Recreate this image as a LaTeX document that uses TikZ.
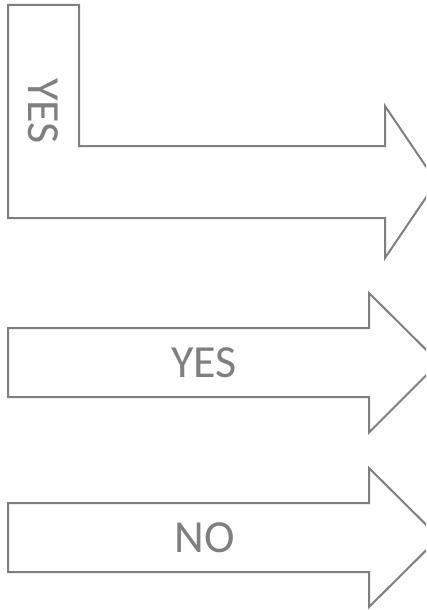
\documentclass[tikz,border=0pt]{standalone}
\usepackage{fontspec}
\setmainfont{Carlito}
\definecolor{linegray}{HTML}{7F7F7F}
\tikzset{
  blockarrow/.style={draw=linegray, line width=2pt, line join=miter, fill=white},
  lbl/.style={text=linegray, font=\fontsize{46}{50}\selectfont, inner sep=0pt, anchor=center}
}
\begin{document}
\begin{tikzpicture}[x=1pt,y=-1pt]
\useasboundingbox (0,0) rectangle (426,610);
\clip (0,0) rectangle (426,610);
% L-shaped arrow
\draw[blockarrow] (8,5) -- (79,5) -- (79,146) -- (385,146) -- (385,106) -- (436.5,182)
  -- (385,258) -- (385,218) -- (8,218) -- cycle;
\node[lbl, rotate=-90] (yesone) at (43,111) {YES};
% middle arrow
\draw[blockarrow] (8,328) -- (369,328) -- (369,293) -- (439,362.5) -- (369,432.5)
  -- (369,397) -- (8,397) -- cycle;
\node[lbl] (yestwo) at (204,363) {YES};
% bottom arrow
\draw[blockarrow] (8,503) -- (369,503) -- (369,468) -- (439,537.5) -- (369,607)
  -- (369,572) -- (8,572) -- cycle;
\node[lbl] (no) at (205,538) {NO};
\end{tikzpicture}
\end{document}
